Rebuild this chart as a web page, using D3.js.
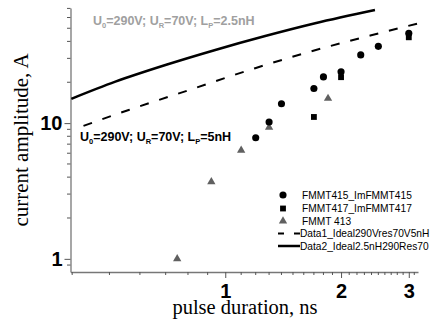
<!DOCTYPE html>
<html>
<head>
<meta charset="utf-8">
<script src="https://cdn.jsdelivr.net/npm/d3@7"></script>
<style>
    body { margin: 0; background: #fff; }
    svg { display: block; }
</style>
</head>
<body>
<div id="chart"></div>
<script>
// measured points
const fmmt415X = [1.2, 1.3, 1.4, 1.7, 1.8, 2.0, 2.25, 2.5, 3.0];
const fmmt415Y = [7.8, 10.2, 13.9, 18.0, 21.9, 23.9, 31.8, 36.8, 45.9];
const fmmt417X = [1.7, 2.0, 3.0];
const fmmt417Y = [11.1, 21.8, 42.9];
const fmmt413X = [0.75, 0.92, 1.1, 1.3, 1.85];
const fmmt413Y = [1.0, 3.7, 6.3, 9.3, 15.2];

// ideal curves
const data1X = [0.428, 0.561, 0.819, 1.196, 1.747, 2.55, 3.18];
const data1Y = [9.55, 12.5, 17.8, 25.4, 35.0, 46.4, 54.4];
const data2X = [0.398, 0.518, 0.699, 0.942, 1.27, 1.713, 2.45];
const data2Y = [15.1, 20.2, 26.8, 34.6, 43.8, 54.4, 68.1];

const xTickLabels = [1, 2, 3];
const yTickLabels = [1, 10];
const legendNames = ["FMMT415_ImFMMT415", "FMMT417_ImFMMT417", "FMMT 413",
    "Data1_Ideal290Vres70V5nH", "Data2_Ideal2.5nH290Res70"];

const W = 433, H = 323;
const mLeft = 70.5, mRight = 418, mTop = 8, mBottom = 272;

const svg = d3.select("#chart").append("svg")
    .attr("width", W).attr("height", H);

const x = d3.scaleLog().domain([0.396, 3.17]).range([mLeft, mRight]);
const y = d3.scaleLog().domain([0.8, 70.5]).range([mBottom, mTop]);

const zip = (a, b) => a.map((v, i) => [v, b[i]]);

// x axis
const xMinor = d3.range(4, 32).map(d => d / 10).filter(d => !xTickLabels.includes(d));
const xAxis = svg.append("g").attr("transform", `translate(0,${mBottom})`);
xAxis.call(d3.axisBottom(x).tickValues(xTickLabels).tickSize(6).tickSizeOuter(0).tickFormat(d3.format("d")));
svg.append("g").attr("transform", `translate(0,${mBottom})`)
    .selectAll("line").data(xMinor).enter().append("line")
    .attr("x1", d => x(d)).attr("x2", d => x(d))
    .attr("y1", 0).attr("y2", 3)
    .attr("stroke", "#555");

// y axis
const yMinor = [0.9, 2, 3, 4, 5, 6, 7, 8, 9, 20, 30, 40, 50, 60, 70];
const yAxis = svg.append("g").attr("transform", `translate(${mLeft},0)`);
yAxis.call(d3.axisLeft(y).tickValues(yTickLabels).tickSize(6).tickSizeOuter(0).tickFormat(d3.format("d")));
svg.append("g").attr("transform", `translate(${mLeft},0)`)
    .selectAll("line").data(yMinor).enter().append("line")
    .attr("y1", d => y(d)).attr("y2", d => y(d))
    .attr("x1", 0).attr("x2", -3.5)
    .attr("stroke", "#555");

[xAxis, yAxis].forEach(a => {
    a.select(".domain").attr("stroke", "#777").attr("stroke-width", 1.3);
    a.selectAll(".tick line").attr("stroke", "#555");
    a.selectAll(".tick text")
        .attr("font-family", "Liberation Sans, Arial, sans-serif")
        .attr("font-weight", "bold")
        .attr("font-size", 20)
        .attr("fill", "#000");
});
xAxis.selectAll(".tick text").attr("y", 11.5);
yAxis.selectAll(".tick text").attr("x", -8);

// curves
const line = d3.line().x(d => x(d[0])).y(d => y(d[1])).curve(d3.curveMonotoneX);
svg.append("path").datum(zip(data1X, data1Y))
    .attr("d", line).attr("fill", "none")
    .attr("stroke", "#000").attr("stroke-width", 2)
    .attr("stroke-dasharray", "9,11");
svg.append("path").datum(zip(data2X, data2Y))
    .attr("d", line).attr("fill", "none")
    .attr("stroke", "#000").attr("stroke-width", 2.5);

// markers
const circle = d3.symbol().type(d3.symbolCircle).size(40);
const square = d3.symbol().type(d3.symbolSquare).size(34);
const tri = d3.symbol().type(d3.symbolTriangle).size(30);

svg.append("g").selectAll("path").data(zip(fmmt413X, fmmt413Y)).enter().append("path")
    .attr("d", tri).attr("fill", "#606060")
    .attr("transform", d => `translate(${x(d[0])},${y(d[1])})`);
svg.append("g").selectAll("path").data(zip(fmmt417X, fmmt417Y)).enter().append("path")
    .attr("d", square).attr("fill", "#000")
    .attr("transform", d => `translate(${x(d[0])},${y(d[1])})`);
svg.append("g").selectAll("path").data(zip(fmmt415X, fmmt415Y)).enter().append("path")
    .attr("d", circle).attr("fill", "#000")
    .attr("transform", d => `translate(${x(d[0])},${y(d[1])})`);

// annotations
function note(tx, ty, color, lp) {
    const t = svg.append("text")
        .attr("x", tx).attr("y", ty)
        .attr("font-family", "Liberation Sans, Arial, sans-serif")
        .attr("font-weight", "bold").attr("font-size", 12.5)
        .attr("fill", color);
    const parts = [["U", 0], ["0", 1], ["=290V; U", 0], ["R", 1], ["=70V; L", 0], ["P", 1], ["=" + lp, 0]];
    parts.forEach(p => {
        t.append("tspan").text(p[0])
            .attr("font-size", p[1] ? 7.5 : 12.5)
            .attr("dy", p[1] ? 3 : (p[0] === "U" ? 0 : -3));
    });
}
note(93, 25, "#a0a0a0", "2.5nH");
note(80, 140.5, "#000", "5nH");

// axis titles
svg.append("text")
    .attr("x", 245).attr("y", 314)
    .attr("text-anchor", "middle")
    .attr("font-family", "Liberation Serif, Times New Roman, serif")
    .attr("font-size", 20.5)
    .text("pulse duration, ns");
svg.append("text")
    .attr("transform", "translate(28,140) rotate(-90)")
    .attr("text-anchor", "middle")
    .attr("font-family", "Liberation Serif, Times New Roman, serif")
    .attr("font-size", 21)
    .text("current amplitude, A");

// legend
const lg = svg.append("g").attr("transform", "translate(283,0)");
const rowY = [195, 208.5, 221, 233.5, 246];
lg.append("path").attr("d", circle).attr("fill", "#000").attr("transform", `translate(0,${rowY[0]})`);
lg.append("path").attr("d", square).attr("fill", "#000").attr("transform", `translate(0,${rowY[1]})`);
lg.append("path").attr("d", tri).attr("fill", "#606060").attr("transform", `translate(0,${rowY[2]})`);
lg.append("line").attr("x1", -5).attr("x2", 17).attr("y1", rowY[3]).attr("y2", rowY[3])
    .attr("stroke", "#000").attr("stroke-width", 2).attr("stroke-dasharray", "6,10");
lg.append("line").attr("x1", -5).attr("x2", 17).attr("y1", rowY[4]).attr("y2", rowY[4])
    .attr("stroke", "#000").attr("stroke-width", 2.5);
lg.selectAll("text").data(legendNames).enter().append("text")
    .attr("x", (d, i) => i < 3 ? 19 : 17)
    .attr("y", (d, i) => rowY[i])
    .attr("dy", "0.35em")
    .attr("font-family", "Liberation Sans, Arial, sans-serif")
    .attr("font-size", 10.2)
    .text(d => d);
</script>
</body>
</html>
